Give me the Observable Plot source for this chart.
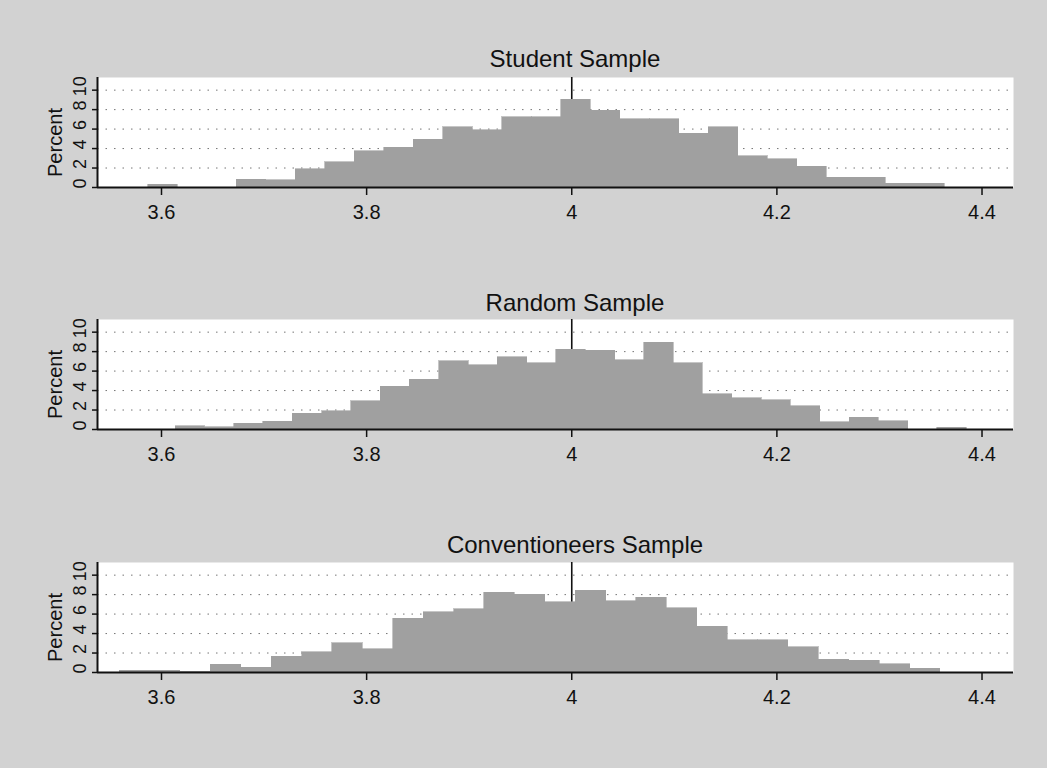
<!DOCTYPE html>
<html>
<head>
<meta charset="utf-8">
<script src="https://cdn.jsdelivr.net/npm/d3@7"></script>
<script src="https://cdn.jsdelivr.net/npm/@observablehq/plot@0.6"></script>
<style>
  html, body { margin: 0; padding: 0; background: #d2d2d2; }
  #wrap { position: relative; width: 1047px; height: 768px; overflow: hidden;
          font-family: "Liberation Sans", Arial, sans-serif; }
  .title { position: absolute; left: 275px; width: 600px; text-align: center;
           font-size: 24px; line-height: 24px; color: #111; }
  .panel { position: absolute; left: 0; }
</style>
</head>
<body>
<div id="wrap"></div>
<script>
// ---- data ----
const sampleNames = ["Student Sample", "Random Sample", "Conventioneers Sample"];

// histogram bins: first bin edge and bin width (in GPA units), then percent per bin
const studentBinStart = 3.5873, studentBinWidth = 0.02876;
const studentPercent = [0.3, 0, 0, 0.8, 0.75, 1.9, 2.6, 3.7, 4.1, 4.9, 6.2, 5.9, 7.2, 7.2, 9.0,
                        7.9, 7.0, 7.0, 5.5, 6.2, 3.2, 2.9, 2.15, 1.0, 1.0, 0.4, 0.4];

const randomBinStart = 3.6137, randomBinWidth = 0.02857;
const randomPercent = [0.35, 0.25, 0.6, 0.8, 1.6, 1.9, 2.9, 4.4, 5.1, 7.0, 6.6, 7.4, 6.8, 8.2, 8.1,
                       7.1, 8.9, 6.8, 3.6, 3.2, 3.0, 2.4, 0.75, 1.2, 0.85, 0, 0.2];

const convBinStart = 3.5592, convBinWidth = 0.02964;
const convPercent = [0.2, 0.2, 0.1, 0.8, 0.5, 1.6, 2.1, 3.0, 2.4, 5.5, 6.2, 6.5, 8.2, 8.0, 7.2,
                     8.4, 7.3, 7.7, 6.6, 4.7, 3.3, 3.3, 2.6, 1.3, 1.2, 0.85, 0.4];

const xTicks = [3.6, 3.8, 4, 4.2, 4.4];
const yTicks = [0, 2, 4, 6, 8, 10];
const refValue = 4;
const xDomain = [3.5376, 4.4307];
const yDomain = [0, 11.3];

// ---- build ----
function bins(start, width, pct) {
  return pct.map((p, i) => ({x1: start + i * width, x2: start + (i + 1) * width, pct: p}));
}
const panels = [
  {name: sampleNames[0], data: bins(studentBinStart, studentBinWidth, studentPercent), top: 72, titleTop: 47},
  {name: sampleNames[1], data: bins(randomBinStart, randomBinWidth, randomPercent), top: 314, titleTop: 291},
  {name: sampleNames[2], data: bins(convBinStart, convBinWidth, convPercent), top: 557, titleTop: 533}
];

const wrap = document.getElementById("wrap");
for (const p of panels) {
  const t = document.createElement("div");
  t.className = "title";
  t.style.top = p.titleTop + "px";
  t.textContent = p.name;
  wrap.appendChild(t);

  const chart = Plot.plot({
    width: 1047,
    height: 155,
    marginLeft: 97,
    marginRight: 34,
    marginTop: 5,
    marginBottom: 40,
    style: {background: "transparent", fontFamily: "Liberation Sans, Arial, sans-serif", color: "#111", overflow: "visible"},
    x: {domain: xDomain},
    y: {domain: yDomain},
    marks: [
      Plot.frame({fill: "white", stroke: null}),
      Plot.gridY(yTicks.filter(d => d > 0), {stroke: "#666", strokeOpacity: 0.9, strokeDasharray: "1.5,7"}),
      Plot.ruleX([refValue], {stroke: "#111", strokeWidth: 1.6}),
      Plot.rect(p.data, {x1: "x1", x2: "x2", y1: 0, y2: "pct", fill: "#a0a0a0",
                         stroke: "#a0a0a0", strokeWidth: 0.6, shapeRendering: "crispEdges"}),
      Plot.ruleY([0], {stroke: "#111", strokeWidth: 2}),
      Plot.ruleX([xDomain[0]], {stroke: "#111", strokeWidth: 2}),
      Plot.axisX({ticks: xTicks, tickSize: 8, tickPadding: 9, fontSize: 20, label: null,
                  tickFormat: d => String(d), strokeWidth: 1.5}),
      Plot.axisY({ticks: yTicks, tickSize: 5, tickFormat: () => "", label: null, strokeWidth: 1.5}),
      Plot.text(yTicks, {y: d => d, text: d => String(d), frameAnchor: "left", dx: -17, dy: -4,
                         rotate: -90, fontSize: 18, textAnchor: "middle", fill: "#111"}),
      Plot.text(["Percent"], {text: d => d, frameAnchor: "left", dx: -42, dy: 10, rotate: -90,
                              fontSize: 20, textAnchor: "middle", fill: "#111"})
    ]
  });
  chart.classList.add("panel");
  chart.style.top = p.top + "px";
  wrap.appendChild(chart);
}
</script>
</body>
</html>
